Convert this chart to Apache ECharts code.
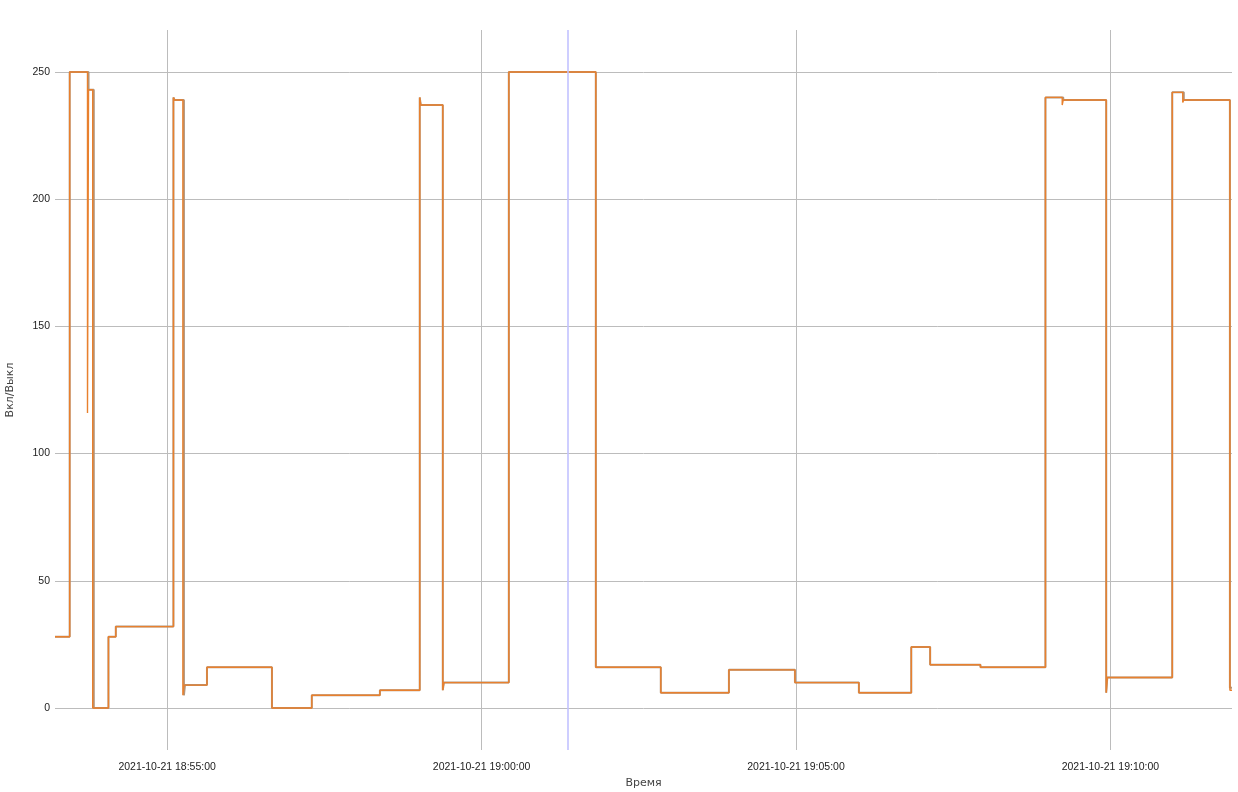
<!DOCTYPE html>
<html>
<head>
<meta charset="utf-8">
<script src="https://cdn.jsdelivr.net/npm/echarts@6/dist/echarts.min.js"></script>
<style>html,body{margin:0;padding:0;background:#fff}#c{width:1238px;height:792px}</style>
</head>
<body>
<div id="c"></div>
<script>
const DAY = '2021-10-21';
const xStart = '18:53:13';
const xEnd = '19:11:56';
const xTicks = ['18:55:00', '19:00:00', '19:05:00', '19:10:00'];
const yTicks = [0, 50, 100, 150, 200, 250];
const markerTime = '19:01:22';

// orange series: step points (value holds until next point)
const orangeTimes = ['18:53:13','18:53:27','18:53:44','18:53:45','18:53:49','18:54:04','18:54:11','18:55:06','18:55:07','18:55:15','18:55:16','18:55:38','18:56:40','18:57:18','18:58:23','18:59:01','18:59:02','18:59:23','18:59:24','19:00:26','19:01:49','19:02:51','19:03:56','19:04:59','19:06:00','19:06:50','19:07:08','19:07:56','19:08:58','19:09:14','19:09:15','19:09:56','19:09:57','19:10:59','19:11:09','19:11:10','19:11:54','19:11:56'];
const orangeValues = [28,250,116,243,0,28,32,240,239,5,9,16,0,5,7,240,237,7,10,250,16,6,15,10,6,24,17,16,240,237,239,6,12,242,238,239,7,7];

// brown series
const brownTimes = ['18:53:13','18:53:27','18:53:45','18:53:50','18:54:04','18:54:11','18:55:06','18:55:07','18:55:16','18:55:17','18:55:38','18:56:40','18:57:18','18:58:23','18:59:01','18:59:02','18:59:23','18:59:24','19:00:26','19:01:49','19:02:51','19:03:56','19:04:59','19:06:00','19:06:50','19:07:08','19:07:56','19:08:58','19:09:15','19:09:56','19:09:57','19:10:59','19:11:10','19:11:54','19:11:56'];
const brownValues = [28,250,243,0,28,32,240,239,5,9,16,0,5,7,240,237,7,10,250,16,6,15,10,6,24,17,16,240,239,6,12,242,239,8,8];

const ts = t => new Date(DAY + 'T' + t).getTime();
const toPairs = (times, vals) => times.map((t, i) => [ts(t), vals[i]]);

const chart = echarts.init(document.getElementById('c'));
const fmt = v => echarts.time.format(v, '{yyyy}-{MM}-{dd} {HH}:{mm}:{ss}', false);
chart.setOption({
  animation: false,
  backgroundColor: '#fff',
  grid: { left: 55, right: 6, top: 30, bottom: 42, containLabel: false, outerBoundsMode: 'none' },
  xAxis: {
    type: 'value',
    min: ts(xStart), max: ts(xEnd),
    name: 'Время', nameLocation: 'middle', nameGap: 23,
    nameTextStyle: { fontFamily: 'DejaVu Sans', fontSize: 11, color: '#444' },
    axisLine: { show: false },
    axisTick: { show: false, customValues: xTicks.map(ts) },
    axisLabel: { customValues: xTicks.map(ts), formatter: fmt, fontFamily: 'Liberation Sans', fontSize: 10.5, color: '#222', margin: 12 },
    splitLine: { show: true, lineStyle: { color: '#bcbcbc', width: 1 } }
  },
  yAxis: {
    type: 'value',
    min: -16.5, max: 266.5,
    name: 'Вкл/Выкл', nameLocation: 'middle', nameGap: 39, nameRotate: 90,
    nameTextStyle: { fontFamily: 'DejaVu Sans', fontSize: 11, color: '#444' },
    axisLine: { show: false },
    axisTick: { show: false, customValues: yTicks },
    axisLabel: { customValues: yTicks, fontFamily: 'Liberation Sans', fontSize: 10.5, color: '#222', margin: 5 },
    splitLine: { show: true, lineStyle: { color: '#bcbcbc', width: 1 } }
  },
  series: [
    {
      type: 'line', z: 1, data: [], showSymbol: false,
      markLine: {
        silent: true, symbol: 'none', label: { show: false },
        lineStyle: { color: '#c2c2ff', type: 'solid', width: 1.6, opacity: 1 },
        data: [{ xAxis: ts(markerTime) }]
      }
    },
    {
      type: 'line', z: 2, step: 'end', showSymbol: false, symbol: 'none',
      data: toPairs(brownTimes, brownValues),
      lineStyle: { color: '#b0957c', width: 2 }
    },
    {
      type: 'line', z: 3, step: 'end', showSymbol: false, symbol: 'none',
      data: toPairs(orangeTimes, orangeValues),
      lineStyle: { color: '#e8802e', width: 1.4 }
    }
  ]
});
</script>
</body>
</html>
